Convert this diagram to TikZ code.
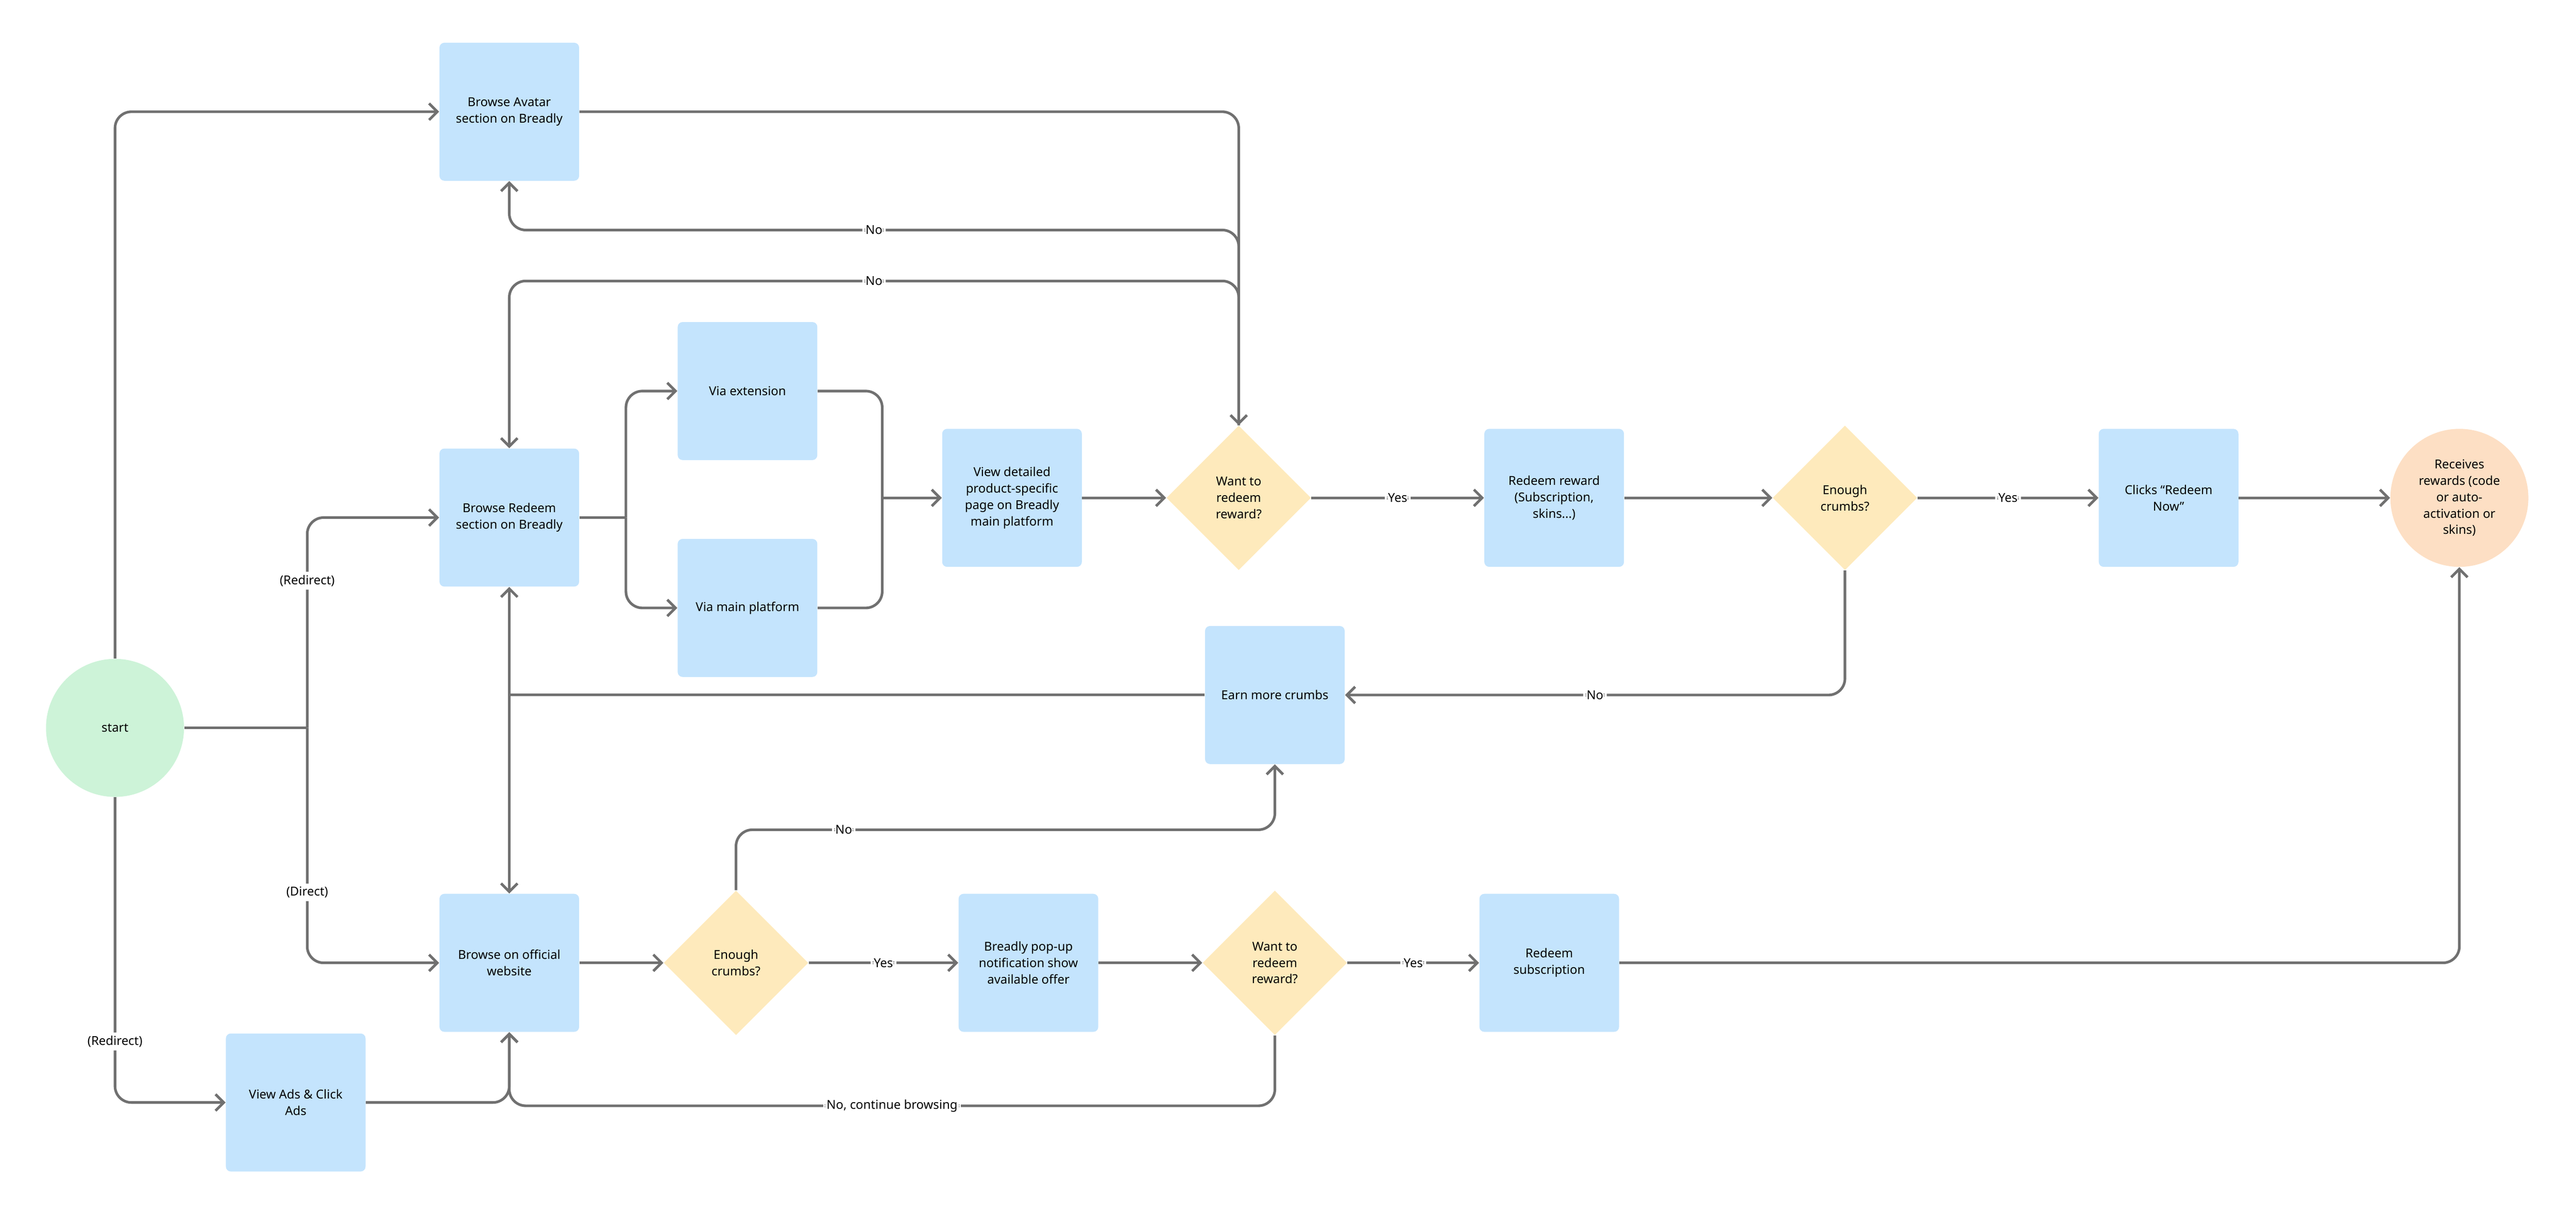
\documentclass[tikz,border=0pt]{standalone}
\usepackage{fontspec}
\setmainfont{Noto Sans}
\usetikzlibrary{shapes.geometric, arrows.meta}
\definecolor{boxblue}{HTML}{C4E4FD}
\definecolor{diayellow}{HTML}{FEEABC}
\definecolor{startgreen}{HTML}{CDF3D8}
\definecolor{endorange}{HTML}{FDDFC4}
\definecolor{lineg}{HTML}{707070}
\tikzset{
  proc/.style={fill=boxblue, rounded corners=3pt, minimum width=85pt, minimum height=84pt, align=center, inner sep=2pt},
  choice/.style={diamond, fill=diayellow, minimum width=88pt, minimum height=88pt, align=center, inner sep=0pt},
  term/.style={circle, minimum size=84pt, align=center, inner sep=0pt},
  flow/.style={draw=lineg, line width=1.6pt, rounded corners=10pt, -{Straight Barb[length=5pt,width=10pt]}},
  plain/.style={draw=lineg, line width=1.6pt, rounded corners=10pt},
  lbl/.style={fill=white, inner sep=2pt, font=\fontsize{7.5}{9}\selectfont},
}
\begin{document}
\begin{tikzpicture}[x=1pt,y=-1pt, font=\fontsize{7.5}{10}\selectfont]
    \useasboundingbox (0,0) rectangle (1568,740);

    % Nodes
    \node[term, fill=startgreen] (start) at (70,443) {start};
    \node[proc] (avatar) at (310,68) {Browse Avatar\\section on Breadly};
    \node[proc] (redeem) at (310,315) {Browse Redeem\\section on Breadly};
    \node[proc] (viaext) at (455,238) {Via extension};
    \node[proc] (viamain) at (455,370) {Via main platform};
    \node[proc] (detail) at (616,303) {View detailed\\product-specific\\page on Breadly\\main platform};
    \node[choice] (want1) at (754,303) {Want to\\redeem\\reward?};
    \node[proc] (reward) at (946,303) {Redeem reward\\(Subscription,\\skins...)};
    \node[choice] (enough1) at (1123,303) {Enough\\crumbs?};
    \node[proc] (clicks) at (1320,303) {Clicks “Redeem\\Now”};
    \node[term, fill=endorange] (receive) at (1497,303) {Receives\\rewards (code\\or auto-\\activation or\\skins)};
    \node[proc] (earn) at (776,423) {Earn more crumbs};
    \node[proc] (official) at (310,586) {Browse on official\\website};
    \node[choice] (enough2) at (448,586) {Enough\\crumbs?};
    \node[proc] (popup) at (626,586) {Breadly pop-up\\notification show\\available offer};
    \node[choice] (want2) at (776,586) {Want to\\redeem\\reward?};
    \node[proc] (subs) at (943,586) {Redeem\\subscription};
    \node[proc] (ads) at (180,671) {View Ads \& Click\\Ads};

    \coordinate (split) at (187,443);
    \coordinate (fork) at (381,315);
    \coordinate (merge) at (537,303);
    \coordinate (earnleft) at (310,423);

    % From start
    \draw[flow] (start.north) |- (avatar.west);
    \draw[plain] (start.east) -- (split);
    \draw[flow] (split) |- node[lbl, pos=0.35] {(Redirect)} (redeem.west);
    \draw[flow] (split) |- node[lbl, pos=0.35] {(Direct)} (official.west);
    \draw[flow] (start.south) |- node[lbl, pos=0.4] {(Redirect)} (ads.west);

    % Upper branch
    \draw[flow] (avatar.east) -| (want1.north);
    \draw[flow] (want1.north) |- node[lbl, pos=0.75] {No} (310,140) -- (avatar.south);
    \draw[flow] (want1.north) |- node[lbl, pos=0.75] {No} (310,171) -- (redeem.north);
    \draw[plain] (redeem.east) -- (fork);
    \draw[flow] (fork) |- (viaext.west);
    \draw[flow] (fork) |- (viamain.west);
    \draw[plain] (viaext.east) -| (merge);
    \draw[plain] (viamain.east) -| (merge);
    \draw[flow] (merge) -- (detail.west);
    \draw[flow] (detail.east) -- (want1.west);
    \draw[flow] (want1.east) -- node[lbl] {Yes} (reward.west);
    \draw[flow] (reward.east) -- (enough1.west);
    \draw[flow] (enough1.east) -- node[lbl] {Yes} (clicks.west);
    \draw[flow] (clicks.east) -- (receive.west);
    \draw[flow] (enough1.south) |- node[lbl, pos=0.75] {No} (earn.east);

    % Earn more crumbs
    \draw[plain] (earn.west) -- (earnleft);
    \draw[flow] (earnleft) -- (redeem.south);
    \draw[flow] (earnleft) -- (official.north);

    % Lower branch
    \draw[flow] (ads.east) -| (official.south);
    \draw[flow] (want2.south) |- node[lbl, pos=0.75] {No, continue browsing} (310,673) -- (official.south);
    \draw[flow] (official.east) -- (enough2.west);
    \draw[flow] (enough2.north) |- node[lbl, pos=0.6] {No} (776,505) -- (earn.south);
    \draw[flow] (enough2.east) -- node[lbl] {Yes} (popup.west);
    \draw[flow] (popup.east) -- (want2.west);
    \draw[flow] (want2.east) -- node[lbl] {Yes} (subs.west);
    \draw[flow] (subs.east) -| (receive.south);
\end{tikzpicture}
\end{document}
